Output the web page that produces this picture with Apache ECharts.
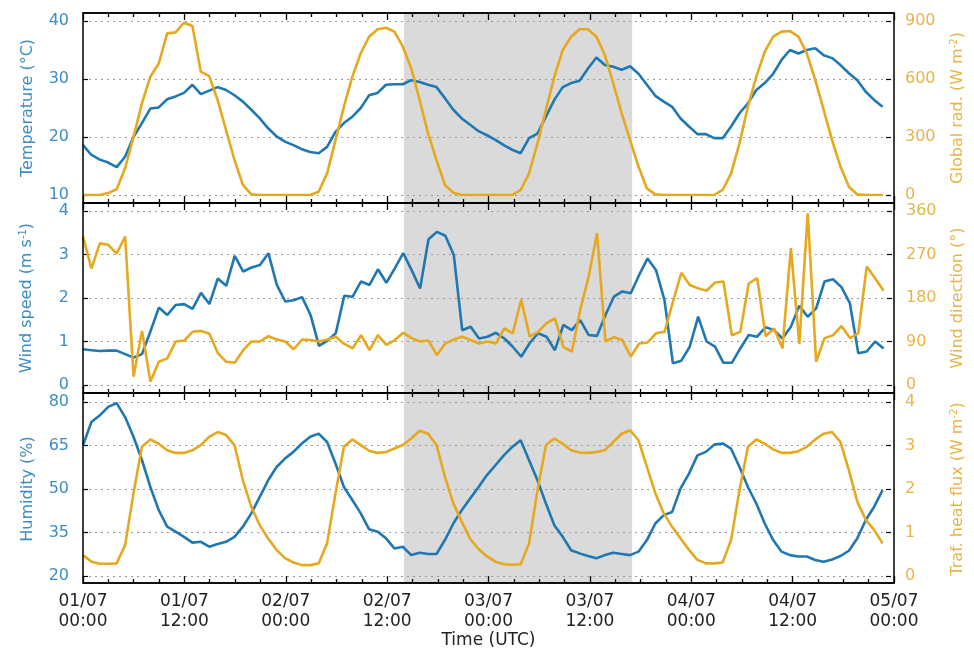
<!DOCTYPE html>
<html><head><meta charset="utf-8">
<script src="https://cdn.jsdelivr.net/npm/echarts@6/dist/echarts.min.js"></script>
<style>html,body{margin:0;padding:0;background:#fff}#c{width:974px;height:650px}</style>
</head><body><div id="c"></div>
<script>
// hours since 01/07 00:00 UTC (hourly samples)
const tickLabels = ['01/07\n00:00','01/07\n12:00','02/07\n00:00','02/07\n12:00','03/07\n00:00','03/07\n12:00','04/07\n00:00','04/07\n12:00','05/07\n00:00'];
const shadedPeriod = [38, 65];
const humidityTicks = [20, 35, 50, 65, 80];

const temperature = [18.6,16.9,16.1,15.6,14.8,16.6,20.0,22.4,24.9,25.1,
26.5,27.0,27.6,29.0,27.4,28.0,28.6,28.1,27.2,26.1,
24.7,23.2,21.5,20.1,19.2,18.6,17.9,17.4,17.2,18.3,
20.9,22.4,23.5,25.0,27.2,27.6,29.0,29.1,29.1,29.8,
29.5,29.0,28.6,26.7,24.7,23.2,22.1,21.0,20.3,19.5,
18.6,17.8,17.2,19.8,20.6,23.5,26.4,28.6,29.3,29.7,
31.8,33.7,32.4,32.1,31.6,32.2,30.9,29.0,27.1,26.1,
25.2,23.2,21.8,20.5,20.5,19.8,19.8,21.8,24.1,25.8,
28.1,29.3,30.9,33.3,35.0,34.4,35.0,35.3,34.1,33.6,
32.4,31.0,29.8,27.8,26.4,25.2];

const globalRad = [0,0,0,10,30,138,300,474,612,680,
836,841,891,874,638,615,491,336,181,52,
3,0,0,0,0,0,0,0,17,112,
284,457,612,733,819,857,865,845,767,655,
491,319,181,52,12,0,0,0,0,0,
0,0,26,112,267,440,612,750,819,857,
857,819,724,578,422,284,147,34,3,0,
0,0,0,0,0,0,26,112,267,457,
612,741,819,845,848,819,733,595,440,284,
147,43,3,0,0,0];

const windSpeed = [0.82,0.80,0.78,0.79,0.79,0.71,0.63,0.71,1.23,1.78,
1.61,1.84,1.86,1.75,2.12,1.86,2.45,2.28,2.97,2.61,
2.70,2.76,3.03,2.30,1.92,1.95,2.02,1.61,0.90,1.02,
1.19,2.05,2.03,2.38,2.30,2.66,2.35,2.68,3.03,2.64,
2.22,3.35,3.52,3.43,2.99,1.26,1.34,1.07,1.11,1.20,
1.07,0.88,0.65,0.96,1.19,1.11,0.80,1.38,1.26,1.49,
1.15,1.13,1.61,2.03,2.15,2.11,2.53,2.91,2.64,1.95,
0.50,0.56,0.88,1.57,1.00,0.88,0.51,0.51,0.84,1.15,
1.11,1.33,1.26,1.07,1.34,1.82,1.57,1.76,2.38,2.43,
2.25,1.88,0.73,0.77,1.00,0.84];

const windDir = [307,241,293,290,272,307,17,112,7,48,
55,90,92,110,112,106,66,48,46,72,
90,90,101,94,90,74,94,93,90,94,
100,85,76,103,72,103,83,93,108,97,
90,92,62,86,94,100,93,86,90,86,
117,107,177,100,110,128,138,79,69,155,
224,314,90,99,93,59,86,88,107,110,
172,232,207,200,195,212,214,103,110,210,
221,101,117,76,283,85,355,48,97,103,
122,97,107,245,221,195];

const humidity = [65.1,73.1,75.4,78.3,79.6,74.8,68.0,60.0,50.7,42.7,
37.0,35.3,33.5,31.5,31.8,30.1,31.0,31.8,33.5,37.0,
41.6,47.3,53.0,57.6,60.5,62.8,65.7,68.0,69.1,66.2,
58.8,50.7,46.2,41.6,36.1,35.3,33.0,29.5,30.1,27.2,
28.0,27.6,27.6,32.4,38.1,42.7,46.7,50.7,54.8,58.2,
61.6,64.5,66.8,59.9,53.0,45.0,37.5,33.5,28.9,27.8,
26.9,26.1,27.2,28.0,27.6,27.2,28.4,32.4,38.1,41.0,
42.1,50.2,55.3,61.6,62.8,65.3,65.7,63.9,57.6,50.7,
45.0,38.1,32.4,28.4,27.2,26.7,26.7,25.5,24.9,25.7,
26.9,28.7,33.0,39.3,43.9,49.6];

const heatFlux = [0.48,0.33,0.28,0.28,0.29,0.71,1.90,2.97,3.14,3.04,
2.89,2.83,2.83,2.89,3.01,3.20,3.31,3.24,3.01,2.20,
1.59,1.17,0.86,0.60,0.41,0.31,0.25,0.25,0.29,0.75,
1.90,2.97,3.14,3.01,2.88,2.83,2.85,2.93,3.01,3.16,
3.34,3.27,3.01,2.28,1.67,1.25,0.85,0.62,0.45,0.33,
0.27,0.26,0.27,0.75,1.97,3.01,3.16,3.04,2.89,2.84,
2.83,2.85,2.89,3.08,3.27,3.35,3.12,2.51,1.90,1.44,
1.13,0.86,0.60,0.37,0.29,0.29,0.31,0.83,1.97,2.97,
3.14,3.04,2.91,2.83,2.83,2.87,2.97,3.14,3.27,3.31,
3.08,2.43,1.71,1.29,1.06,0.75];

const BLUE = '#1f78b2', ORANGE = '#e6a81e';
const BLUE_TXT = '#3d8cc2', ORANGE_TXT = '#e8b448';
const FONT = 'DejaVu Sans';

const L = 83, R = 80;
const frames = [{top:13,height:190},{top:203,height:190},{top:393,height:191}];
const inner = [{top:21,height:174},{top:211,height:174},{top:402,height:174}];

const grid = [];
frames.forEach(f => grid.push({left:L, right:R, top:f.top, height:f.height, show:true, borderColor:'#000', borderWidth:1.5, backgroundColor:'transparent', z:5}));
inner.forEach(f => grid.push({left:L, right:R, top:f.top, height:f.height, show:false}));

const xAxis = [];
for (let i = 0; i < 3; i++) {
  ['bottom','top'].forEach(pos => {
    const ax = {
      gridIndex:i, type:'value', min:0, max:96, interval:12, position:pos, z:6,
      axisLine:{show:true, lineStyle:{color:'#000', width:1.5}},
      axisTick:{show:true, inside:true, length:7, lineStyle:{color:'#000', width:1.3}},
      minorTick:{show:true, splitNumber:4, length:4, lineStyle:{color:'#000', width:1.3}},
      splitLine:{show:false}, minorSplitLine:{show:false},
      axisLabel:{show:false}
    };
    if (i === 2 && pos === 'bottom') {
      ax.axisLabel = {show:true, fontFamily:FONT, fontSize:17, color:'#222', lineHeight:20, margin:8,
        formatter: v => tickLabels[Math.round(v/12)]};
      ax.name = 'Time (UTC)'; ax.nameLocation = 'middle'; ax.nameGap = 47;
      ax.nameTextStyle = {fontFamily:FONT, fontSize:17, color:'#222'};
    }
    xAxis.push(ax);
  });
}
for (let i = 0; i < 3; i++) xAxis.push({gridIndex:3+i, type:'value', min:0, max:96, show:false});

const split = {show:true, lineStyle:{color:'#9a9a9a', type:[2,4], width:1}};
const yAxis = [];
for (let i = 0; i < 3; i++) yAxis.push({gridIndex:i, type:'value', min:0, max:1, show:false});

function leftAxis(gi, min, max, interval, name, extra) {
  return Object.assign({
    gridIndex:gi, type:'value', min, max, interval, position:'left', z:2,
    axisLine:{show:false},
    axisTick:{show:true, inside:true, length:5, lineStyle:{color:'#000', width:1.2}},
    axisLabel:{fontFamily:FONT, fontSize:16, color:BLUE_TXT, margin:14},
    splitLine:split,
    name, nameLocation:'middle', nameGap:47,
    nameTextStyle:{fontFamily:FONT, fontSize:16, color:BLUE_TXT, rich:{sup:{fontFamily:FONT, fontSize:10, color:BLUE_TXT, verticalAlign:'top', padding:[0,0,8,0]}}}
  }, extra || {});
}
function rightAxis(gi, min, max, interval, name, extra) {
  return Object.assign({
    gridIndex:gi, type:'value', min, max, interval, position:'right', z:2,
    axisLine:{show:false},
    axisTick:{show:true, inside:true, length:5, lineStyle:{color:'#000', width:1.2}},
    axisLabel:{fontFamily:FONT, fontSize:16, color:ORANGE_TXT, margin:14},
    splitLine:{show:false},
    name, nameLocation:'middle', nameGap:58,
    nameTextStyle:{fontFamily:FONT, fontSize:16, color:ORANGE_TXT, rich:{sup:{fontFamily:FONT, fontSize:10, color:ORANGE_TXT, verticalAlign:'top', padding:[0,0,8,0]}}}
  }, extra || {});
}
yAxis.push(leftAxis(3, 10, 40, 10, 'Temperature (°C)'));            // 3
yAxis.push(rightAxis(3, 0, 900, 300, 'Global rad. (W m{sup|-2})'));  // 4
yAxis.push(leftAxis(4, 0, 4, 1, 'Wind speed (m s{sup|-1})'));        // 5
yAxis.push(rightAxis(4, 0, 360, 90, 'Wind direction (°)'));          // 6
yAxis.push(leftAxis(5, 20, 80, null, 'Humidity (%)', {
  axisTick:{show:true, inside:true, length:5, customValues:humidityTicks, lineStyle:{color:'#000', width:1.2}},
  axisLabel:{fontFamily:FONT, fontSize:16, color:BLUE_TXT, margin:14, customValues:humidityTicks},
  splitLine:{show:false}
}));                                                                 // 7
yAxis.push(rightAxis(5, 0, 4, 1, 'Traf. heat flux (W m{sup|-2})', {splitLine:split})); // 8

const toPairs = arr => arr.map((v, h) => [h, v]);
const lineSeries = (xi, yi, arr, color) => ({
  type:'line', xAxisIndex:xi, yAxisIndex:yi, data:toPairs(arr), showSymbol:false, symbol:'none',
  lineStyle:{color, width:2.6}, itemStyle:{color}, z:3, animation:false
});

const series = [];
for (let i = 0; i < 3; i++) {
  series.push({type:'line', xAxisIndex:2*i, yAxisIndex:i, data:[], z:1, animation:false,
    markArea:{silent:true, itemStyle:{color:'#dadada'}, data:[[{xAxis:shadedPeriod[0]},{xAxis:shadedPeriod[1]}]]}});
}
series.push(lineSeries(6, 3, temperature, BLUE));
series.push(lineSeries(6, 4, globalRad, ORANGE));
series.push(lineSeries(7, 5, windSpeed, BLUE));
series.push(lineSeries(7, 6, windDir, ORANGE));
series.push(lineSeries(8, 7, humidity, BLUE));
series.push(lineSeries(8, 8, heatFlux, ORANGE));

const chart = echarts.init(document.getElementById('c'), null, {renderer:'canvas'});
chart.setOption({animation:false, backgroundColor:'#fff', grid, xAxis, yAxis, series});
</script></body></html>
